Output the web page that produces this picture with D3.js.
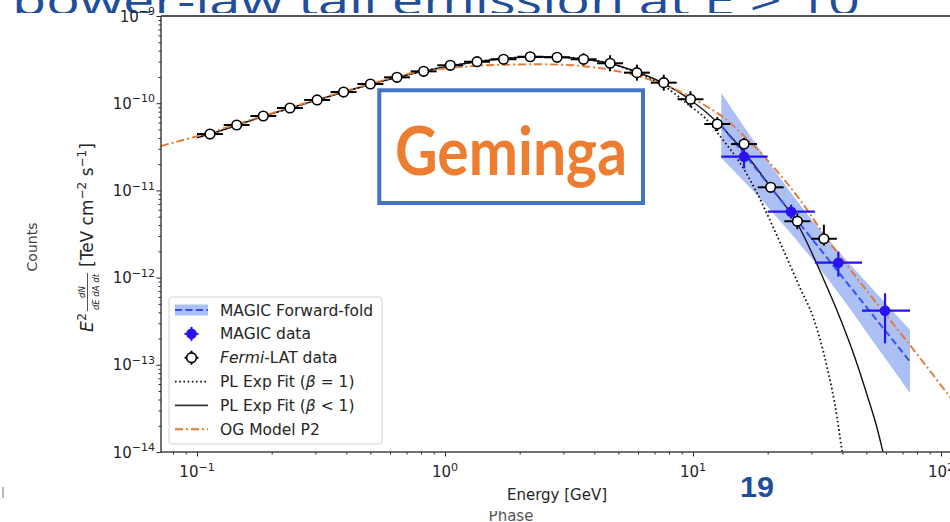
<!DOCTYPE html>
<html>
<head>
<meta charset="utf-8">
<script src="https://cdn.jsdelivr.net/npm/d3@7"></script>
<style>
  body { margin: 0; background: #fff; }
  svg { display: block; }
</style>
</head>
<body>
<svg id="chart" width="950" height="522"></svg>
<script>
// ---- Fermi-LAT spectral points (GeV, TeV cm^-2 s^-1) ----
const fermiEnergy = [0.1128, 0.1445, 0.185, 0.237, 0.305, 0.390, 0.500, 0.640, 0.820, 1.05,
                     1.346, 1.722, 2.206, 2.83, 3.62, 4.63, 5.94, 7.62, 9.77, 12.52,
                     16.06, 20.56, 26.34, 33.7];
const fermiFlux = [4.43e-11, 5.62e-11, 7.13e-11, 8.81e-11, 1.089e-10, 1.343e-10, 1.66e-10, 1.98e-10, 2.32e-10, 2.72e-10,
                   2.99e-10, 3.19e-10, 3.41e-10, 3.36e-10, 3.19e-10, 2.87e-10, 2.24e-10, 1.72e-10, 1.11e-10, 5.77e-11,
                   3.40e-11, 1.085e-11, 4.43e-12, 2.79e-12];
const fermiRelErrLow  = [0.04, 0.04, 0.04, 0.04, 0.04, 0.04, 0.04, 0.04, 0.04, 0.05,
                         0.05, 0.05, 0.06, 0.07, 0.146, 0.19, 0.19, 0.19, 0.19, 0.17,
                         0.146, 0.08, 0.19, 0.168];
const fermiRelErrHigh = [0.04, 0.04, 0.04, 0.04, 0.04, 0.04, 0.04, 0.04, 0.04, 0.05,
                         0.05, 0.05, 0.06, 0.07, 0.172, 0.235, 0.235, 0.235, 0.235, 0.20,
                         0.172, 0.08, 0.235, 0.447];
const fermiBinFactor = 1.128;

// ---- MAGIC spectral points ----
const magicEnergy     = [16.06, 24.85, 38.54, 59.46];
const magicEnergyLow  = [13, 20, 31, 48];
const magicEnergyHigh = [20, 31, 48, 75];
const magicFlux       = [2.434e-11, 5.70e-12, 1.483e-12, 4.172e-13];
const magicFluxLow    = [1.79e-11, 4.74e-12, 1.025e-12, 1.764e-13];
const magicFluxHigh   = [3.04e-11, 6.86e-12, 1.983e-12, 6.60e-13];

// ---- MAGIC forward-folded power law and its confidence band ----
const foldEnergy = [13, 17, 22.4, 29.6, 39.2, 51.7, 75];
const foldLow    = [2.36e-11, 1.075e-11, 4.50e-12, 1.76e-12, 6.29e-13, 2.08e-13, 4.72e-14];
const foldHigh   = [1.31e-10, 4.24e-11, 1.40e-11, 4.93e-12, 1.91e-12, 7.98e-13, 2.50e-13];
const foldFitEnergy = [13, 75];
const foldFitFlux   = [5.56e-11, 1.086e-13];

// ---- Power law with sub-exponential cutoff (beta < 1) ----
const subExpEnergy = [0.1, 0.1128, 0.1845, 0.3047, 0.4983, 0.8153, 1.346, 2.202, 2.828, 3.601,
                      4.627, 5.945, 7.641, 9.725, 12.50, 16.06, 20.57, 26.27, 33.44, 39.15,
                      45.0, 50.77, 55.21, 58.36, 61.14];
const subExpFlux = [4.042e-11, 4.434e-11, 7.04e-11, 1.088e-10, 1.639e-10, 2.322e-10, 2.991e-10, 3.387e-10, 3.387e-10, 3.212e-10,
                    2.853e-10, 2.280e-10, 1.682e-10, 1.103e-10, 6.086e-11, 2.757e-11, 1.094e-11, 4.227e-12, 9.89e-13, 3.441e-13,
                    1.197e-13, 4.161e-14, 1.884e-14, 1.0e-14, 5.896e-15];

// ---- Power law with exponential cutoff (beta = 1) ----
const expEnergy = [0.1, 0.1128, 0.1845, 0.3047, 0.4983, 0.8153, 1.346, 2.202, 2.828, 3.601,
                   4.627, 5.945, 7.641, 9.725, 11.18, 13.21, 15.47, 18.12, 21.02, 24.61,
                   27.01, 30.47, 34.70, 38.07, 39.54, 40.63];
const expFlux = [4.042e-11, 4.434e-11, 7.04e-11, 1.088e-10, 1.639e-10, 2.322e-10, 2.991e-10, 3.387e-10, 3.387e-10, 3.212e-10,
                 2.853e-10, 2.220e-10, 1.575e-10, 9.288e-11, 6.766e-11, 3.784e-11, 2.062e-11, 9.337e-12, 3.804e-12, 1.395e-12,
                 7.599e-13, 3.533e-13, 9.436e-14, 2.520e-14, 1.203e-14, 7.093e-15];

// ---- Outer-gap model P2 ----
const ogEnergy = [0.07158, 0.1128, 0.1845, 0.3047, 0.4984, 0.8152, 1.048, 1.297, 1.778, 2.416,
                  3.282, 4.500, 6.113, 8.306, 11.39, 13.21, 16.21, 20.44, 27.01, 35.68,
                  47.14, 62.30, 82.29, 108.7, 143.6];
const ogFlux = [3.229e-11, 4.613e-11, 7.133e-11, 1.103e-10, 1.661e-10, 2.340e-10, 2.533e-10, 2.671e-10, 2.764e-10, 2.794e-10,
                2.720e-10, 2.447e-10, 2.013e-10, 1.482e-10, 9.118e-11, 6.946e-11, 4.096e-11, 2.062e-11, 7.762e-12, 2.494e-12,
                8.903e-13, 3.265e-13, 1.197e-13, 4.272e-14, 1.526e-14];

// ---- Axis ticks (powers of ten) and legend ----
const xTickExp = [-1, 0, 1, 2];
const yTickExp = [-14, -13, -12, -11, -10, -9];
const legendLabels = ["MAGIC Forward-fold", "MAGIC data", "Fermi-LAT data",
                      "PL Exp Fit (\u03b2 = 1)", "PL Exp Fit (\u03b2 < 1)", "OG Model P2"];

// ---------------------------------------------------------------
const svg = d3.select("#chart");
const FONT = "DejaVu Sans, Verdana, sans-serif";
const INK = "#262626";
const MAGIC_BLUE = "#2812ee";
const ORANGE = "#e07a35";

const L = 161, T = 16, B = 452, R = 1000;
const x = d3.scaleLog().domain([0.07158, 172.9]).range([L, R]);
const y = d3.scaleLog().domain([1e-14, 1e-9]).range([B, T]);

// slide header, partly hidden behind the figure
svg.append("text")
  .attr("x", 12).attr("y", 15)
  .attr("font-family", "Open Sans, Lato, sans-serif")
  .attr("font-size", 40)
  .attr("fill", "#1f4e9a")
  .attr("textLength", 848).attr("lengthAdjust", "spacingAndGlyphs")
  .text("power-law tail emission at E > 10");

// caption peeking out below the figure
svg.append("text")
  .attr("x", 511).attr("y", 521)
  .attr("text-anchor", "middle")
  .attr("font-family", FONT).attr("font-size", 15)
  .attr("fill", "#555")
  .text("Phase");

// figure background
svg.append("rect").attr("x", 0).attr("y", 13).attr("width", 950).attr("height", 498).attr("fill", "#fff");

// clip region for the plot area
svg.append("defs").append("clipPath").attr("id", "plotclip")
  .append("rect").attr("x", L).attr("y", T).attr("width", R - L).attr("height", B - T);

const plot = svg.append("g").attr("clip-path", "url(#plotclip)");

// forward-fold band
const band = d3.area()
  .x((d, i) => x(foldEnergy[i]))
  .y0((d, i) => y(foldLow[i]))
  .y1((d, i) => y(foldHigh[i]))
  .curve(d3.curveMonotoneX);
plot.append("path").datum(foldEnergy).attr("d", band)
  .attr("fill", "#5a82ee").attr("fill-opacity", 0.5);

const line = d3.line().x(d => x(d[0])).y(d => y(d[1])).curve(d3.curveMonotoneX);
const zipXY = (a, b) => a.map((v, i) => [v, b[i]]);

// beta = 1 fit (dotted)
plot.append("path").datum(zipXY(expEnergy, expFlux)).attr("d", line)
  .attr("fill", "none").attr("stroke", "#111").attr("stroke-width", 1.8)
  .attr("stroke-dasharray", "1.6,2.6");
// beta < 1 fit (solid)
plot.append("path").datum(zipXY(subExpEnergy, subExpFlux)).attr("d", line)
  .attr("fill", "none").attr("stroke", "#111").attr("stroke-width", 1.4);
// OG model (dash-dot)
plot.append("path").datum(zipXY(ogEnergy, ogFlux)).attr("d", line)
  .attr("fill", "none").attr("stroke", ORANGE).attr("stroke-width", 1.9)
  .attr("stroke-dasharray", "8,3,2,3");
// forward-fold power law (dashed)
plot.append("path").datum(zipXY(foldFitEnergy, foldFitFlux)).attr("d", d3.line().x(d => x(d[0])).y(d => y(d[1])))
  .attr("fill", "none").attr("stroke", "#3552f2").attr("stroke-width", 2)
  .attr("stroke-dasharray", "7,3.5");

// Fermi-LAT points
const fermi = plot.append("g");
fermiEnergy.forEach((e, i) => {
  const f = fermiFlux[i];
  fermi.append("line")
    .attr("x1", x(e / fermiBinFactor)).attr("x2", x(e * fermiBinFactor))
    .attr("y1", y(f)).attr("y2", y(f))
    .attr("stroke", "#000").attr("stroke-width", 2);
  fermi.append("line")
    .attr("x1", x(e)).attr("x2", x(e))
    .attr("y1", y(f * (1 - fermiRelErrLow[i]))).attr("y2", y(f * (1 + fermiRelErrHigh[i])))
    .attr("stroke", "#000").attr("stroke-width", 2);
});
fermiEnergy.forEach((e, i) => {
  fermi.append("circle").attr("cx", x(e)).attr("cy", y(fermiFlux[i])).attr("r", 4.8)
    .attr("fill", "#fff").attr("stroke", "#000").attr("stroke-width", 1.6);
});

// MAGIC points
const magic = plot.append("g");
magicEnergy.forEach((e, i) => {
  const f = magicFlux[i];
  magic.append("line")
    .attr("x1", x(magicEnergyLow[i])).attr("x2", x(magicEnergyHigh[i]))
    .attr("y1", y(f)).attr("y2", y(f))
    .attr("stroke", MAGIC_BLUE).attr("stroke-width", 2.2);
  magic.append("line")
    .attr("x1", x(e)).attr("x2", x(e))
    .attr("y1", y(magicFluxLow[i])).attr("y2", y(magicFluxHigh[i]))
    .attr("stroke", MAGIC_BLUE).attr("stroke-width", 2.2);
  magic.append("circle").attr("cx", x(e)).attr("cy", y(f)).attr("r", 5.3)
    .attr("fill", MAGIC_BLUE);
});

// ---- axes ----
const axes = svg.append("g");
const isPow10 = v => Math.abs(Math.log10(v) - Math.round(Math.log10(v))) < 1e-9;

const xMinor = x.ticks().filter(v => !isPow10(v));
const yMinor = y.ticks().filter(v => !isPow10(v));
const xMajor = xTickExp.map(e => Math.pow(10, e));
const yMajor = yTickExp.map(e => Math.pow(10, e));

function styleAxis(g) {
  g.select(".domain").remove();
  g.selectAll(".tick line").attr("stroke", INK).attr("stroke-width", 1);
}
axes.append("g").attr("transform", `translate(0,${B})`)
  .call(d3.axisBottom(x).tickValues(xMinor).tickSize(2.5).tickFormat(""))
  .call(styleAxis);
axes.append("g").attr("transform", `translate(0,${B})`)
  .call(d3.axisBottom(x).tickValues(xMajor).tickSize(4.5).tickFormat(""))
  .call(styleAxis);
axes.append("g").attr("transform", `translate(${L},0)`)
  .call(d3.axisLeft(y).tickValues(yMinor).tickSize(2.5).tickFormat(""))
  .call(styleAxis);
axes.append("g").attr("transform", `translate(${L},0)`)
  .call(d3.axisLeft(y).tickValues(yMajor).tickSize(4.5).tickFormat(""))
  .call(styleAxis);

// spines
axes.append("line").attr("x1", L).attr("x2", L).attr("y1", T).attr("y2", B).attr("stroke", INK).attr("stroke-width", 1.3);
axes.append("line").attr("x1", L).attr("x2", 950).attr("y1", B).attr("y2", B).attr("stroke", "#444").attr("stroke-width", 1.6);
axes.append("line").attr("x1", L).attr("x2", 950).attr("y1", T).attr("y2", T).attr("stroke", "#555").attr("stroke-width", 1.8);

// power-of-ten tick labels
function powerLabel(sel, exp, size, supSize) {
  sel.append("tspan").text("10");
  sel.append("tspan").attr("dy", -0.42 * size).attr("font-size", supSize)
    .text(exp < 0 ? "\u2212" + (-exp) : String(exp));
}
xTickExp.forEach(e => {
  const t = axes.append("text")
    .attr("x", x(Math.pow(10, e))).attr("y", 477)
    .attr("text-anchor", "middle")
    .attr("font-family", FONT).attr("font-size", 15).attr("fill", INK);
  powerLabel(t, e, 15, 11);
});
yTickExp.forEach(e => {
  const t = axes.append("text")
    .attr("x", 155).attr("y", y(Math.pow(10, e)) + 5.5)
    .attr("text-anchor", "end")
    .attr("font-family", FONT).attr("font-size", 15).attr("fill", INK);
  powerLabel(t, e, 15, 11);
});

// x-axis title
svg.append("text")
  .attr("x", 557).attr("y", 500)
  .attr("text-anchor", "middle")
  .attr("font-family", FONT).attr("font-size", 15).attr("fill", INK)
  .text("Energy [GeV]");

// y-axis title: E^2 dN/(dE dA dt) [TeV cm^-2 s^-1]
(function () {
  const g = svg.append("g").attr("transform", "translate(93,332) rotate(-90)")
    .attr("font-family", FONT).attr("fill", INK);
  let cx = 0;
  const e = g.append("text").attr("x", cx).attr("y", 0).attr("font-size", 17)
    .attr("font-style", "italic").text("E");
  cx += e.node().getComputedTextLength() + 0.5;
  const two = g.append("text").attr("x", cx).attr("y", -7).attr("font-size", 12).text("2");
  cx += two.node().getComputedTextLength() + 2;
  const num = g.append("text").attr("font-size", 8.5).attr("font-style", "italic")
    .attr("text-anchor", "middle").text("dN");
  const den = g.append("text").attr("font-size", 8.5).attr("font-style", "italic")
    .attr("text-anchor", "middle").text("dE dA dt");
  const fw = Math.max(num.node().getComputedTextLength(), den.node().getComputedTextLength()) + 2;
  num.attr("x", cx + fw / 2).attr("y", -8.5);
  den.attr("x", cx + fw / 2).attr("y", 6);
  g.append("line").attr("x1", cx).attr("x2", cx + fw).attr("y1", -5.5).attr("y2", -5.5)
    .attr("stroke", INK).attr("stroke-width", 0.8);
  cx += fw + 6;
  const unit = g.append("text").attr("x", cx).attr("y", 0).attr("font-size", 17);
  unit.append("tspan").text("[TeV cm");
  unit.append("tspan").attr("dy", -7).attr("font-size", 12).text("\u22122");
  unit.append("tspan").attr("dy", 7).text(" s");
  unit.append("tspan").attr("dy", -7).attr("font-size", 12).text("\u22121");
  unit.append("tspan").attr("dy", 7).text("]");
})();

// outer ylabel
svg.append("text")
  .attr("transform", "translate(37,247) rotate(-90)")
  .attr("text-anchor", "middle")
  .attr("font-family", FONT).attr("font-size", 14).attr("fill", "#444")
  .text("Counts");
svg.append("line").attr("x1", 3).attr("x2", 3).attr("y1", 487).attr("y2", 498)
  .attr("stroke", "#888").attr("stroke-width", 1.2);

// ---- legend ----
const lg = svg.append("g");
lg.append("rect").attr("x", 169).attr("y", 297).attr("width", 213).attr("height", 147)
  .attr("rx", 3).attr("fill", "#fff").attr("fill-opacity", 0.85)
  .attr("stroke", "#d4d4d4").attr("stroke-width", 1);
const rowY = i => 310 + i * 23.85;
const hx0 = 175, hx1 = 208, hxc = (hx0 + hx1) / 2;
legendLabels.forEach((lab, i) => {
  const yy = rowY(i);
  const h = lg.append("g");
  if (i === 0) {
    h.append("rect").attr("x", hx0).attr("y", yy - 5.5).attr("width", hx1 - hx0).attr("height", 11)
      .attr("fill", "#5a82ee").attr("fill-opacity", 0.5);
    h.append("line").attr("x1", hx0).attr("x2", hx1).attr("y1", yy).attr("y2", yy)
      .attr("stroke", "#3552f2").attr("stroke-width", 2).attr("stroke-dasharray", "7,3.5");
  } else if (i === 1 || i === 2) {
    const c = i === 1 ? MAGIC_BLUE : "#000";
    h.append("line").attr("x1", hxc - 7).attr("x2", hxc + 7).attr("y1", yy).attr("y2", yy)
      .attr("stroke", c).attr("stroke-width", 2);
    h.append("line").attr("x1", hxc).attr("x2", hxc).attr("y1", yy - 7).attr("y2", yy + 7)
      .attr("stroke", c).attr("stroke-width", 2);
    h.append("circle").attr("cx", hxc).attr("cy", yy).attr("r", i === 1 ? 5.3 : 4.8)
      .attr("fill", i === 1 ? MAGIC_BLUE : "#fff")
      .attr("stroke", i === 1 ? "none" : "#000").attr("stroke-width", 1.6);
  } else if (i === 3) {
    h.append("line").attr("x1", hx0).attr("x2", hx1).attr("y1", yy).attr("y2", yy)
      .attr("stroke", "#111").attr("stroke-width", 1.8).attr("stroke-dasharray", "1.6,2.6");
  } else if (i === 4) {
    h.append("line").attr("x1", hx0).attr("x2", hx1).attr("y1", yy).attr("y2", yy)
      .attr("stroke", "#333").attr("stroke-width", 1.6);
  } else {
    h.append("line").attr("x1", hx0).attr("x2", hx1).attr("y1", yy).attr("y2", yy)
      .attr("stroke", ORANGE).attr("stroke-width", 1.9).attr("stroke-dasharray", "8,3,2,3");
  }
  const t = lg.append("text").attr("x", 220).attr("y", yy + 5.5)
    .attr("font-family", FONT).attr("font-size", 15.5).attr("fill", INK);
  if (i === 2) {
    t.append("tspan").attr("font-style", "italic").text("Fermi");
    t.append("tspan").text("-LAT data");
  } else if (i === 3 || i === 4) {
    const parts = lab.split("\u03b2");
    t.append("tspan").text(parts[0]);
    t.append("tspan").attr("font-style", "italic").text("\u03b2");
    t.append("tspan").text(parts[1]);
  } else {
    t.text(lab);
  }
});

// ---- source name box ----
svg.append("rect").attr("x", 379.3).attr("y", 90.3).attr("width", 263.7).attr("height", 112.7)
  .attr("fill", "#fff").attr("stroke", "#4472c4").attr("stroke-width", 4);
svg.append("text").attr("x", 395).attr("y", 175)
  .attr("font-family", "Lato, Open Sans, sans-serif").attr("font-weight", "bold")
  .attr("font-size", 66).attr("fill", "#ed7d31")
  .attr("textLength", 232).attr("lengthAdjust", "spacingAndGlyphs")
  .text("Geminga");

// slide number
svg.append("text").attr("x", 757).attr("y", 497)
  .attr("text-anchor", "middle")
  .attr("font-family", "Liberation Sans Narrow, Liberation Sans, Arial, sans-serif")
  .attr("font-weight", "bold").attr("font-size", 30).attr("fill", "#1f4e9a")
  .attr("textLength", 34).attr("lengthAdjust", "spacingAndGlyphs")
  .text("19");
</script>
</body>
</html>
